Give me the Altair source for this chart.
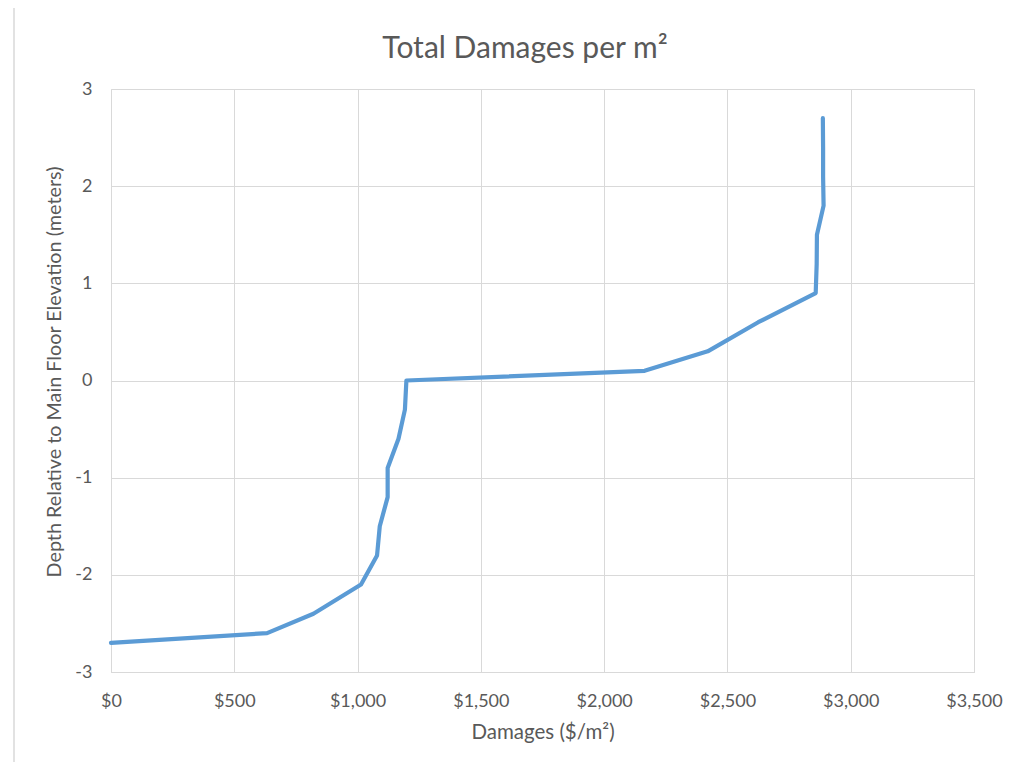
import altair as alt
import pandas as pd

# Depth relative to main floor elevation (m) and total damages ($/m2)
depth = [-2.7, -2.6, -2.4, -2.1, -1.8, -1.5, -1.2, -0.9, -0.6, -0.3, 0.0,
         0.1, 0.3, 0.6, 0.9, 1.2, 1.5, 1.8, 2.1, 2.4, 2.7]
damages = [0, 633, 821, 1014, 1079, 1090, 1122, 1122, 1166, 1192, 1198,
           2164, 2420, 2625, 2858, 2862, 2863, 2890, 2888, 2888, 2887]

x_ticks = [0, 500, 1000, 1500, 2000, 2500, 3000, 3500]
y_ticks = [-3, -2, -1, 0, 1, 2, 3]

chart_title = "Total Damages per m²"
x_title = "Damages ($/m²)"
y_title = "Depth Relative to Main Floor Elevation (meters)"

df = pd.DataFrame({"depth": depth, "damages": damages})
one = pd.DataFrame({"t": [chart_title]})

FONT = "Lato"
GREY = "#595959"
GRID = "#D9D9D9"

W, H = 863, 583

line = alt.Chart(df).mark_line(color="#5B9BD5", strokeWidth=4.2, strokeCap="round",
                               strokeJoin="round").encode(
    x=alt.X("damages:Q",
            scale=alt.Scale(domain=[0, 3500], nice=False),
            axis=alt.Axis(values=x_ticks, format="$,.0f", title=x_title,
                          grid=True, gridColor=GRID, domain=True, domainColor=GRID,
                          ticks=False, labelPadding=34, labelBaseline="alphabetic",
                          labelFlush=False, labelOverlap=False,
                          labelFontSize=18, labelColor=GREY, labelFont=FONT,
                          titleFont=FONT, titleFontSize=20.5, titleFontWeight="normal",
                          titleColor=GREY, titleBaseline="alphabetic", titleY=66)),
    y=alt.Y("depth:Q",
            scale=alt.Scale(domain=[-3, 3], nice=False),
            axis=alt.Axis(values=y_ticks, labelExpr="'' + datum.value",
                          title=y_title, labelFlush=False, labelOverlap=False,
                          grid=True, gridColor=GRID, domain=False, ticks=False,
                          labelPadding=19, labelFontSize=18, labelColor=GREY,
                          labelFont=FONT, titleFont=FONT, titleFontSize=19.8,
                          titleFontWeight="normal", titleColor=GREY,
                          titleX=-47, titleY=282.5)),
    order=alt.Order("depth:Q"),
)

title_text = alt.Chart(one).mark_text(
    font=FONT, fontSize=30, color=GREY, align="center", baseline="alphabetic"
).encode(x=alt.value(414), y=alt.value(-31), text="t:N")

frame = alt.Chart(one).mark_rect(fill=None, stroke=GRID, strokeWidth=1.5, clip=False).encode(
    x=alt.value(-97), x2=alt.value(917), y=alt.value(-84), y2=alt.value(720)
)

chart = alt.layer(frame, line, title_text).properties(
    width=W, height=H,
    autosize=alt.AutoSizeParams(type="none"),
    padding={"left": 103, "top": 81, "right": 52, "bottom": 90},
).configure_view(stroke=None).configure(background="white")

chart.save("out.html", embed_options={"renderer": "svg", "actions": False})
